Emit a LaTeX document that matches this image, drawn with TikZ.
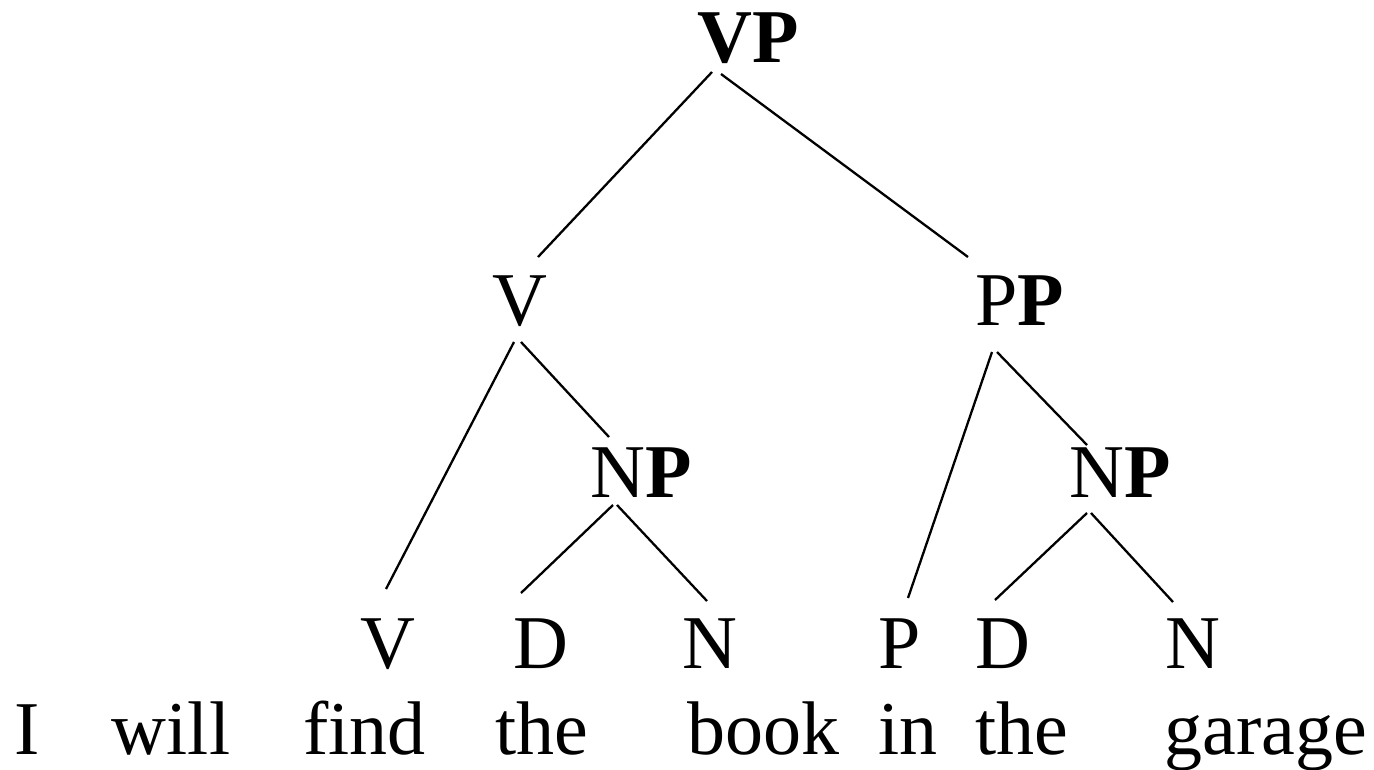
\documentclass[tikz,border=0pt]{standalone}
\usepackage{fontspec}
\setmainfont{Liberation Serif}
\begin{document}
\begin{tikzpicture}[x=1pt,y=-1pt,
  lbl/.style={anchor=base,inner sep=0pt,outer sep=0pt,font=\fontsize{76}{80}\selectfont},
  edge/.style={line width=2.3pt,line cap=butt}]
\useasboundingbox (0,0) rectangle (1374,769);
% phrase labels
\node[lbl] (VP)  at (748.5,62)  {\textbf{VP}};
\node[lbl] (V1)  at (520,325)   {V};
\node[lbl] (PP)  at (1019.5,325){P\textbf{P}};
\node[lbl] (NP1) at (641.5,497) {N\textbf{P}};
\node[lbl] (NP2) at (1120.5,497){N\textbf{P}};
% terminal categories
\node[lbl] (Vb)  at (388,668)  {V};
\node[lbl] (D1)  at (541,668)  {D};
\node[lbl] (N1)  at (710,668)  {N};
\node[lbl] (Pb)  at (900,668)  {P};
\node[lbl] (D2)  at (1003,668) {D};
\node[lbl] (N2)  at (1193,668) {N};
% words
\node[lbl] (w1) at (27.5,754)  {I};
\node[lbl] (w2) at (171,754)   {will};
\node[lbl] (w3) at (364.5,754) {find};
\node[lbl] (w4) at (541.5,754) {the};
\node[lbl] (w5) at (763,754)   {book};
\node[lbl] (w6) at (908,754)   {in};
\node[lbl] (w7) at (1021.5,754){the};
\node[lbl] (w8) at (1265.5,754){garage};
% edges
\draw[edge] ([xshift=-36.5pt,yshift=-10pt]VP.base) -- ([xshift=18pt,yshift=68pt]V1.base);
\draw[edge] ([xshift=-27.5pt,yshift=-12pt]VP.base) -- ([xshift=-51.5pt,yshift=68pt]PP.base);
\draw[edge] ([xshift=-6pt,yshift=-17pt]V1.base) -- ([xshift=-2pt,yshift=79pt]Vb.base);
\draw[edge] ([xshift=1pt,yshift=-17pt]V1.base) -- ([xshift=-32.5pt,yshift=60pt]NP1.base);
\draw[edge] ([xshift=-28.5pt,yshift=-8pt]NP1.base) -- ([xshift=-20pt,yshift=75pt]D1.base);
\draw[edge] ([xshift=-24.5pt,yshift=-8pt]NP1.base) -- ([xshift=-3pt,yshift=67pt]N1.base);
\draw[edge] ([xshift=-27.5pt,yshift=-27pt]PP.base) -- ([xshift=8pt,yshift=70pt]Pb.base);
\draw[edge] ([xshift=-22.5pt,yshift=-27pt]PP.base) -- ([xshift=-33.5pt,yshift=52pt]NP2.base);
\draw[edge] ([xshift=-33.5pt,yshift=-16pt]NP2.base) -- ([xshift=-8pt,yshift=68pt]D2.base);
\draw[edge] ([xshift=-29.5pt,yshift=-16pt]NP2.base) -- ([xshift=-20pt,yshift=66pt]N2.base);
\end{tikzpicture}
\end{document}
